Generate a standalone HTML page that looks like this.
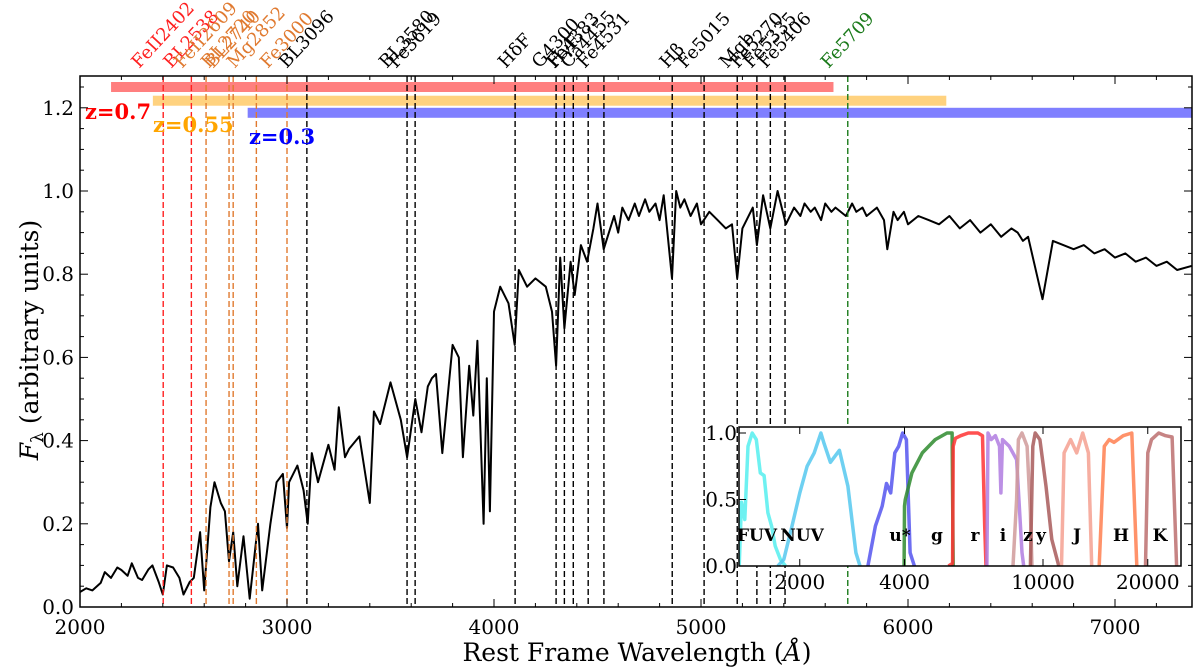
<!DOCTYPE html>
<html><head><meta charset="utf-8"><style>
body{margin:0;background:#fff}
svg{display:block;font-family:"DejaVu Serif","Liberation Serif",serif}
</style></head><body>
<svg id="chart" width="1200" height="672" viewBox="0 0 1200 672" xmlns="http://www.w3.org/2000/svg">
<g id="main"></g>
<g id="inset"></g>
</svg>
<script>
const specWave=[2000,2030,2060,2100,2120,2150,2180,2200,2230,2250,2280,2300,2330,2350,2380,2400,2420,2450,2480,2500,2530,2550,2580,2600,2630,2650,2680,2700,2720,2740,2760,2790,2820,2860,2880,2920,2950,2980,3000,3010,3050,3080,3100,3120,3150,3200,3230,3250,3280,3300,3350,3400,3420,3450,3500,3550,3580,3620,3650,3680,3700,3720,3750,3800,3830,3850,3880,3900,3920,3950,3965,3980,4000,4030,4070,4100,4120,4160,4200,4250,4280,4300,4320,4340,4370,4390,4420,4450,4480,4500,4530,4580,4600,4620,4650,4680,4700,4730,4750,4780,4800,4820,4860,4880,4900,4920,4950,4980,5000,5040,5080,5120,5150,5175,5200,5250,5270,5300,5335,5370,5410,5450,5480,5500,5530,5550,5580,5600,5630,5650,5700,5730,5750,5780,5800,5850,5884,5900,5930,5950,5980,6000,6050,6100,6150,6200,6250,6300,6350,6400,6450,6500,6530,6555,6580,6650,6700,6750,6800,6850,6900,6950,7000,7050,7100,7150,7200,7250,7300,7370];
const specFlux=[0.036,0.045,0.04,0.058,0.084,0.07,0.095,0.089,0.075,0.105,0.07,0.065,0.09,0.1,0.06,0.03,0.1,0.095,0.07,0.03,0.06,0.07,0.18,0.04,0.24,0.30,0.25,0.23,0.11,0.18,0.05,0.17,0.02,0.2,0.04,0.2,0.3,0.32,0.19,0.3,0.34,0.28,0.2,0.37,0.3,0.39,0.33,0.48,0.36,0.38,0.41,0.25,0.47,0.44,0.54,0.45,0.36,0.5,0.42,0.53,0.55,0.56,0.37,0.63,0.6,0.36,0.58,0.46,0.64,0.2,0.55,0.23,0.71,0.77,0.73,0.63,0.81,0.77,0.79,0.77,0.71,0.58,0.84,0.67,0.83,0.75,0.87,0.83,0.91,0.97,0.86,0.94,0.9,0.96,0.93,0.97,0.94,0.98,0.95,0.97,0.93,0.99,0.79,1.0,0.96,0.98,0.94,0.97,0.92,0.95,0.93,0.91,0.92,0.79,0.91,0.96,0.87,0.99,0.91,1.0,0.92,0.96,0.94,0.97,0.95,0.96,0.93,0.97,0.95,0.96,0.94,0.97,0.95,0.96,0.94,0.96,0.93,0.86,0.95,0.93,0.95,0.92,0.94,0.93,0.92,0.94,0.91,0.93,0.9,0.92,0.89,0.91,0.9,0.88,0.89,0.74,0.88,0.87,0.86,0.87,0.85,0.86,0.84,0.85,0.83,0.84,0.82,0.83,0.81,0.82,0.8,0.81];
const lineNames=["FeII2402","BL2538","FeII2609","BL2720","BL2740","Mg2852","Fe3000","BL3096","BL3580","Fe3619","HδF","G4300","HγF","Fe4383","Ca4455","Fe4531","Hβ","Fe5015","Mgb","Fe5270","Fe5335","Fe5406","Fe5709"];
const lineWaves=[2402,2538,2609,2720,2740,2852,3000,3096,3580,3619,4102,4300,4340,4383,4455,4531,4861,5015,5175,5270,5335,5406,5709];
const lineColors=["#ff2020","#ff2020","#e07a30","#e07a30","#e07a30","#e07a30","#e07a30","#000","#000","#000","#000","#000","#000","#000","#000","#000","#000","#000","#000","#000","#000","#000","#1a7a1a"];
const zNames=["z=0.7","z=0.55","z=0.3"];
const zStart=[2150,2352,2810];
const zEnd=[5640,6185,7370];
const zLevel=[1.25,1.217,1.188];
const xTicks=[2000,3000,4000,5000,6000,7000];
const yTicks=[0,0.2,0.4,0.6,0.8,1.0,1.2];
const filterNames=["FUV","NUV","u*","g","r","i","z","y","J","H","K"];
const filterColors=["#55eeee","#55c8ee","#5555ee","#2e8b2e","#ff3333","#b07ce0","#d09a9a","#a85a5a","#f5a090","#ff7f50","#bc6f6f"];
const filterWave=[
[1340,1360,1390,1420,1460,1500,1540,1580,1620,1660,1700,1760,1820],
[1730,1800,1900,2000,2100,2200,2300,2350,2450,2600,2750,2900,2980],
[3140,3300,3450,3550,3650,3750,3850,3950,4050,4150,4270],
[3990,4000,4020,4200,4500,4900,5300,5480,5520],
[5350,5500,5520,5600,5800,6100,6500,6700,6800,6860],
[6900,6950,7100,7300,7500,7570,7650,8000,8400,8700,8800],
[8200,8400,8500,8700,9000,9200,9300],
[9200,9350,9500,9800,10200,10600,11100],
[11300,11500,12000,12500,13000,13500,13800],
[14500,15000,15500,16000,17000,18000,18600],
[19700,20000,20500,21500,22500,23500,24200]];
const filterResp=[
[0,0.48,0.35,0.9,1.0,0.95,0.7,0.68,0.4,0.3,0.15,0.05,0],
[0,0.05,0.3,0.55,0.75,0.85,1.0,0.92,0.78,0.87,0.6,0.1,0],
[0,0.3,0.45,0.62,0.55,0.85,0.9,1.0,0.95,0.1,0],
[0,0.45,0.5,0.7,0.85,0.95,1.0,1.0,0],
[0,0.02,0.9,0.96,0.98,1.0,1.0,0.98,0.3,0],
[0,1.0,0.95,0.98,0.9,0.55,0.95,0.9,0.8,0.1,0],
[0,0.5,0.95,1.0,0.9,0.4,0],
[0,0.9,1.0,0.95,0.6,0.2,0],
[0,0.85,0.95,0.85,1.0,0.85,0],
[0,0.9,0.95,0.93,0.98,1.0,0],
[0,0.85,0.95,1.0,0.98,0.97,0]];
const insetYTicks=[0,0.5,1.0];
const insetXTicks=[2000,4000,10000,20000];

const NS="http://www.w3.org/2000/svg";
function mk(tag,attrs,parent){const e=document.createElementNS(NS,tag);for(const k in attrs)e.setAttribute(k,attrs[k]);parent.appendChild(e);return e;}
const L=80,R=1192,T=76,B=607;
const X=w=>L+(w-2000)*0.207;
const Y=v=>B-v*416;
const main=document.getElementById('main');

for(let i=0;i<zNames.length;i++){
  const c=["rgba(255,0,0,0.5)","rgba(255,165,0,0.5)","rgba(0,0,255,0.5)"][i];
  const r=mk('rect',{x:X(zStart[i]),y:Y(zLevel[i])-5,width:Math.min(X(zEnd[i]),R)-X(zStart[i]),height:10,fill:c},main);
  
  
}
let d='';
for(let i=0;i<specWave.length;i++){d+=(i?'L':'M')+X(specWave[i]).toFixed(1)+','+Y(specFlux[i]).toFixed(1);}
const sp=mk('path',{d:d,fill:'none',stroke:'#000','stroke-width':2,'stroke-linejoin':'round'},main);


const FS=18, ANG=47;
const ca=Math.cos(ANG*Math.PI/180), sa=Math.sin(ANG*Math.PI/180);
for(let i=0;i<lineWaves.length;i++){
  const x=X(lineWaves[i]);
  const ln=mk('line',{x1:x,x2:x,y1:T,y2:B,stroke:lineColors[i],'stroke-width':1.4,'stroke-dasharray':'6,3'},main);
  
  
  const g=mk('g',{},main);
  const t=mk('text',{x:0,y:0,fill:lineColors[i],'font-size':FS},g);
  t.textContent=lineNames[i];
  
  
  const len=t.getComputedTextLength();
  const x0=x-len*ca/2+0.3*FS*sa, y0=69;
  g.setAttribute('transform',`translate(${x0.toFixed(1)},${y0}) rotate(-${ANG})`);
}
const zc=["#ff0000","#ffa500","#0000ff"],zx=[85,153,249],zy=[119,132,144];
for(let i=0;i<3;i++){
  const t=mk('text',{x:zx[i],y:zy[i],fill:zc[i],'font-size':21,'font-weight':'bold'},main);
  t.textContent=zNames[i];
  
  
}
const fr=mk('rect',{x:L,y:T,width:R-L,height:B-T,fill:'none',stroke:'#000','stroke-width':1.5},main);


for(let w=2000;w<=7370;w+=200){
  const x=X(w),len=(w%1000===0)?8:4;
  mk('line',{x1:x,x2:x,y1:B,y2:B-len,stroke:'#000'},main);
  mk('line',{x1:x,x2:x,y1:T,y2:T+len,stroke:'#000'},main);
}
for(const w of xTicks){
  const t=mk('text',{x:X(w),y:B+27,'font-size':20,'text-anchor':'middle'},main);
  t.textContent=w;
  
  
}
for(let v=0;v<=1.27;v+=0.05){
  const y=Y(v),len=(Math.round(v*100)%20===0)?8:4;
  mk('line',{x1:L,x2:L+len,y1:y,y2:y,stroke:'#000'},main);
  mk('line',{x1:R,x2:R-len,y1:y,y2:y,stroke:'#000'},main);
}
for(const v of yTicks){
  const t=mk('text',{x:L-6,y:Y(v)+7,'font-size':20,'text-anchor':'end'},main);
  t.textContent=v.toFixed(1);
  
  
}
const xl=mk('text',{x:637,y:661,'font-size':25,'text-anchor':'middle'},main);
xl.innerHTML='Rest Frame Wavelength (<tspan font-style="italic">Å</tspan>)';


const yl=mk('text',{x:38,y:340,'font-size':25,'text-anchor':'middle',transform:'rotate(-90 38 340)'},main);
yl.innerHTML='<tspan font-style="italic">F</tspan><tspan font-size="17" dy="5">λ</tspan><tspan dy="-5"> (arbitrary units)</tspan>';



const ins=document.getElementById('inset');
const IL=739,IR=1181,IT=427,IB=566;
const IX=w=>-349+348*Math.log10(w);
const IY=v=>IB-v*(IB-IT-6);
mk('rect',{x:IL,y:IT,width:IR-IL,height:IB-IT,fill:'#fff'},ins);
const cp=mk('clipPath',{id:'ic'},ins);mk('rect',{x:IL,y:IT,width:IR-IL,height:IB-IT},cp);
const fg=mk('g',{'clip-path':'url(#ic)'},ins);
for(let f=0;f<filterNames.length;f++){
  let p='';
  for(let i=0;i<filterWave[f].length;i++)p+=(i?'L':'M')+IX(filterWave[f][i]).toFixed(1)+','+IY(filterResp[f][i]).toFixed(1);
  const pe=mk('path',{d:p,fill:'none',stroke:filterColors[f],'stroke-width':3.5,'stroke-opacity':0.85,'stroke-linejoin':'round'},fg);
  
  
}
const labX=[757,802,900,937,975,1003,1028,1041,1077,1121,1160];
for(let f=0;f<filterNames.length;f++){
  const t=mk('text',{x:labX[f],y:541,'font-size':17,'font-weight':'bold','text-anchor':'middle'},ins);
  t.textContent=filterNames[f];
  
  
}
mk('rect',{x:IL,y:IT,width:IR-IL,height:IB-IT,fill:'none',stroke:'#000','stroke-width':1.5},ins);
for(const v of insetYTicks){
  mk('line',{x1:IL,x2:IL+7,y1:IY(v),y2:IY(v),stroke:'#000'},ins);
  const t=mk('text',{x:IL-2,y:IY(v)+7,'font-size':20,'text-anchor':'end'},ins);
  t.textContent=v.toFixed(1);
  
  
}
for(const w of insetXTicks){
  const x=IX(w);
  mk('line',{x1:x,x2:x,y1:IB,y2:IB-7,stroke:'#000'},ins);
  mk('line',{x1:x,x2:x,y1:IT,y2:IT+7,stroke:'#000'},ins);
  const t=mk('text',{x:x,y:IB+23,'font-size':20,'text-anchor':'middle'},ins);
  t.textContent=w;
  
  
}
</script>
</body></html>
